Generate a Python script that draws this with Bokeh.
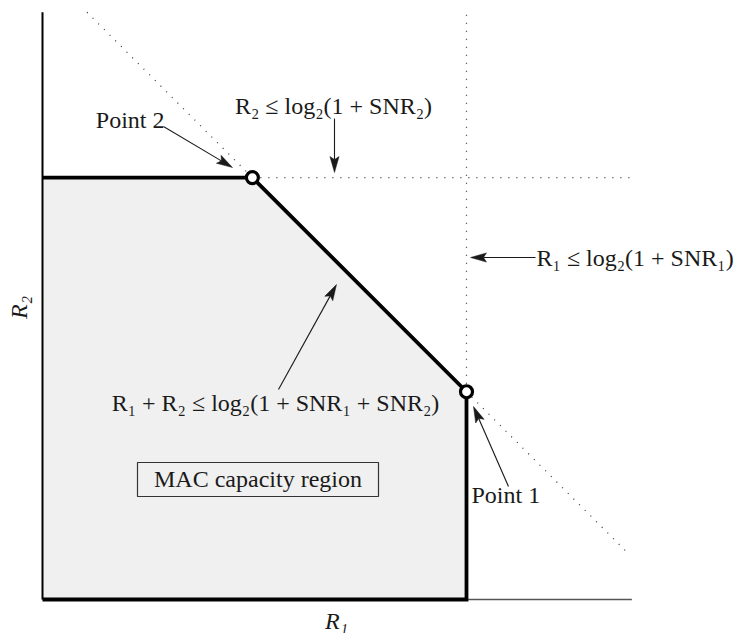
import math
from bokeh.plotting import figure
from bokeh.models import Range1d
from bokeh.core.properties import value
from bokeh.embed import file_html
from bokeh.resources import INLINE

# ---- data (normalised rate units) ----
C1 = 1.00        # log2(1+SNR1)
C2 = 0.995       # log2(1+SNR2)
C_SUM = 1.49     # log2(1+SNR1+SNR2)
AXIS_MAX_X = 1.39
AXIS_MAX_Y = 1.385
DIAG_END_X = 1.378

region_x = [0.0, 0.0, C_SUM - C2, C1, C1]
region_y = [0.0, C2, C2, C_SUM - C1, 0.0]
corner_labels = ["Point 2", "Point 1"]
corner_x = [C_SUM - C2, C1]
corner_y = [C2, C_SUM - C1]

bound_texts = ["R₂ ≤ log₂(1 + SNR₂)", "R₁ ≤ log₂(1 + SNR₁)",
               "R₁ + R₂ ≤ log₂(1 + SNR₁ + SNR₂)"]
region_name = "MAC capacity region"
axis_labels = ["R₁", "R₂"]

# ---- layout ----
PX = 424.0            # pixels per unit
W, H = 746, 633
OX, OY = 42, 599      # canvas pixel of the origin
FONT = value("Liberation Serif")
FS = value("24px")
INK = "#1a1a1a"

p = figure(width=W, height=H, output_backend="svg", toolbar_location=None,
           x_range=Range1d(-OX / PX, (W - OX) / PX),
           y_range=Range1d(-(H - OY) / PX, OY / PX),
           min_border=0, outline_line_color=None)
p.axis.visible = False
p.grid.visible = False
p.background_fill_color = "white"

# region fill
p.patch(region_x, region_y, fill_color="#f0f0f0", line_color=None)

# dotted bound lines
dots = dict(line_color="#333333", line_width=1.2, line_dash="1 7")
p.line([C_SUM - C2, AXIS_MAX_X], [C2, C2], **dots)
p.line([C1, C1], [C_SUM - C1, AXIS_MAX_Y], **dots)
p.line([C_SUM - AXIS_MAX_Y, DIAG_END_X], [AXIS_MAX_Y, C_SUM - DIAG_END_X], **dots)

# axes
p.line([0, 0], [0, AXIS_MAX_Y], line_color="black", line_width=2)
p.line([0, AXIS_MAX_X], [0, 0], line_color="#555555", line_width=1.5)

# region boundary
p.line(region_x[1:] + [0.0], region_y[1:] + [0.0], line_color="black",
       line_width=3.8, line_join="miter")

# corner points
p.scatter(corner_x, corner_y, size=12, marker="circle", fill_color="white",
          line_color="black", line_width=3.2)


def arrow(x0, y0, x1, y1):
    dx, dy = x1 - x0, y1 - y0
    L = math.hypot(dx, dy)
    ux, uy = dx / L, dy / L
    nx, ny = -uy, ux
    hl, hw, nb = 16 / PX, 4.6 / PX, 3 / PX
    bx, by = x1 - ux * hl, y1 - uy * hl
    kx, ky = x1 - ux * (hl - nb), y1 - uy * (hl - nb)
    p.line([x0, kx], [y0, ky], line_color=INK, line_width=1.1)
    p.patch([x1, bx + nx * hw, kx, bx - nx * hw],
            [y1, by + ny * hw, ky, by - ny * hw],
            fill_color=INK, line_color=INK, line_width=0.5)


def px2d(x, y):
    return ((x - OX) / PX, (OY - y) / PX)


# arrows (annotation anchors)
for a, b in [((334, 118), (334, 172)),
             ((163, 126), (232, 167)),
             ((535, 257), (470, 257)),
             ((278, 389), (336, 284)),
             ((508, 486), (473, 406))]:
    (x0, y0), (x1, y1) = px2d(*a), px2d(*b)
    arrow(x0, y0, x1, y1)


def txt(x, y, s, align="left", baseline="middle", angle=0.0, style="normal"):
    xd, yd = px2d(x, y)
    p.text([xd], [yd], text=[s], text_font=FONT, text_font_size=FS,
           text_align=align, text_baseline=baseline, angle=angle,
           text_color=INK, text_font_style=style)


txt(333, 105, bound_texts[0], align="center")
txt(164, 119, corner_labels[0], align="right")
txt(536, 257, bound_texts[1], align="left")
txt(275, 402, bound_texts[2], align="center")
txt(471, 494, corner_labels[1], align="left")

# region box
bx0, by0 = px2d(137, 496)
bx1, by1 = px2d(378, 462)
p.quad(left=bx0, right=bx1, bottom=by0, top=by1, fill_color=None,
       line_color="#333333", line_width=1.2)
txt(257.5, 478, region_name, align="center")

# axis labels
txt(336, 620, axis_labels[0], align="center", style="italic")
txt(18, 307, axis_labels[1], align="center", angle=math.pi / 2, style="italic")

open("out.html", "w").write(file_html(p, INLINE))
